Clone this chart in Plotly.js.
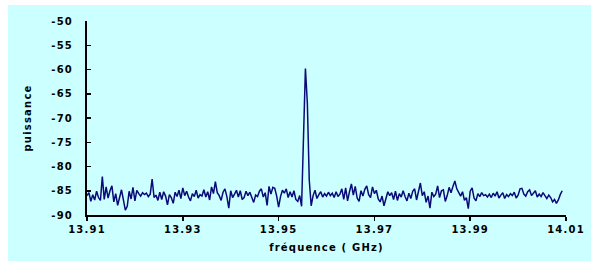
<!DOCTYPE html>
<html>
<head>
<meta charset="utf-8">
<script src="https://cdn.plot.ly/plotly-3.0.1.min.js"></script>
<style>
  html, body { margin: 0; padding: 0; background: #ffffff; width: 591px; height: 261px; overflow: hidden; }
  #chart { position: absolute; left: 8px; top: 5px; width: 583px; height: 256px; }
  #chart text { letter-spacing: 1.2px; }
</style>
</head>
<body>
<div id="chart"></div>
<script>
// Sampling grid of the spectrum (GHz)
const freqStart = 13.91;
const freqStep = 0.0004;

// Measured power (dB) for each sample
const puissance = [
  -86.0, -85.4, -87.2, -85.8, -86.9, -85.1, -86.4, -87.0, -82.1, -86.8,
  -84.2, -86.5, -85.0, -84.0, -87.3, -85.6, -88.0, -86.2, -84.8, -86.9,
  -89.0, -88.2, -85.1, -86.7, -84.3, -87.1, -84.9, -85.6, -86.1, -85.4,
  -85.8, -85.5, -86.2, -85.7, -82.6, -86.4, -85.9, -87.0, -85.3, -86.8,
  -85.2, -86.1, -87.9, -85.8, -86.4, -87.6, -85.3, -86.2, -84.9, -86.6,
  -84.4, -86.0, -85.1, -86.3, -87.1, -85.6, -86.2, -84.9, -86.5, -85.8,
  -86.1, -84.8, -86.3, -85.2, -86.9, -84.2, -85.6, -83.1, -85.4, -86.0,
  -87.0, -85.3, -84.6, -86.2, -88.6, -85.0, -86.4, -85.7, -84.9, -86.3,
  -85.0, -86.8, -86.4, -85.1, -86.0, -85.3, -86.6, -87.4, -85.9, -86.2,
  -85.1, -84.6, -86.3, -85.4, -88.0, -84.1, -85.7, -84.3, -84.5, -86.1,
  -88.4, -86.2, -84.9, -85.5, -84.6, -86.4, -85.2, -86.3, -85.0, -86.8,
  -87.2, -86.0, -88.2, -75.0, -59.8, -66.9, -82.8, -88.1, -86.0, -84.9,
  -86.6, -85.8, -85.2, -86.3, -85.6, -86.1, -85.3, -86.0, -85.5, -86.4,
  -85.2, -86.2, -85.7, -84.6, -86.8, -84.4, -87.1, -85.2, -83.6, -85.9,
  -84.1, -86.5, -87.2, -85.0, -86.1, -84.7, -84.0, -85.8, -86.4, -84.2,
  -85.6, -84.9, -86.7, -87.3, -86.1, -88.1, -86.5, -85.2, -86.0, -85.4,
  -86.8, -85.1, -87.0, -85.6, -86.3, -85.0, -86.2, -87.1, -85.5, -86.6,
  -85.1, -84.6, -86.9, -85.3, -83.4, -86.0, -85.2, -87.4, -86.1, -88.6,
  -85.3, -86.2, -85.7, -84.0, -86.4, -85.0, -84.8, -87.2, -86.0, -84.3,
  -85.4, -84.1, -83.0, -84.6, -85.3, -86.1, -85.2, -87.0, -86.4, -88.7,
  -85.1, -84.4, -86.5, -87.1, -85.6, -86.2, -85.4, -86.0, -85.8, -86.3,
  -85.7, -86.4, -85.5, -86.1, -85.2, -86.5, -85.9, -85.4, -86.6, -85.8,
  -86.2, -85.6, -86.0, -85.3, -86.5, -85.9, -84.6, -84.5, -85.7, -86.1,
  -85.2, -84.8, -86.0, -85.5, -85.0, -86.3, -85.7, -86.2, -85.4, -86.0,
  -86.6, -85.9, -86.4, -87.3, -86.8, -87.6, -86.9, -85.8, -85.0
];

const xTickVals = [13.91, 13.93, 13.95, 13.97, 13.99, 14.01];
const xTickText = ['13.91', '13.93', '13.95', '13.97', '13.99', '14.01'];
const yTickVals = [-50, -55, -60, -65, -70, -75, -80, -85, -90];
const yTickText = ['-50', '-55', '-60', '-65', '-70', '-75', '-80', '-85', '-90'];

const frequence = puissance.map((_, i) => +(freqStart + i * freqStep).toFixed(5));

const tickFont = { family: 'DejaVu Sans', size: 10, color: '#000000', weight: 'bold' };

const trace = {
  x: frequence,
  y: puissance,
  type: 'scatter',
  mode: 'lines',
  line: { color: '#0a0a78', width: 1.5 },
  hoverinfo: 'skip'
};

const layout = {
  width: 583,
  height: 256,
  margin: { l: 79, r: 25, t: 16, b: 46 },
  paper_bgcolor: '#ccffff',
  plot_bgcolor: '#ccffff',
  showlegend: false,
  xaxis: {
    range: [13.91, 14.01],
    tickmode: 'array',
    tickvals: xTickVals,
    ticktext: xTickText,
    showgrid: false,
    zeroline: false,
    showline: true,
    linecolor: '#000000',
    linewidth: 2,
    ticks: 'outside',
    ticklen: 4,
    tickwidth: 1.5,
    tickcolor: '#000000',
    tickfont: tickFont,
    title: { text: 'fréquence ( GHz)', font: tickFont, standoff: 10 }
  },
  yaxis: {
    range: [-90, -50],
    tickmode: 'array',
    tickvals: yTickVals,
    ticktext: yTickText,
    showgrid: false,
    zeroline: false,
    showline: true,
    linecolor: '#000000',
    linewidth: 2,
    ticks: 'inside',
    ticklen: 4,
    tickwidth: 1.5,
    tickcolor: '#000000',
    tickfont: tickFont,
    ticklabelstandoff: 10,
    title: { text: 'puissance', font: tickFont, standoff: 21 }
  }
};

Plotly.newPlot('chart', [trace], layout, { staticPlot: true, displayModeBar: false });
</script>
</body>
</html>
